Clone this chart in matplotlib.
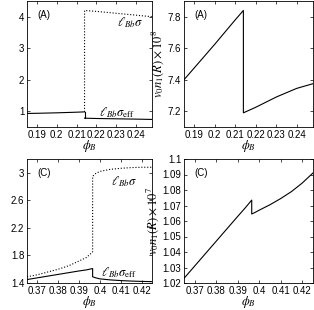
import matplotlib.pyplot as plt

plt.rcParams['font.family'] = ['Liberation Sans', 'DejaVu Sans']
plt.rcParams['mathtext.fontset'] = 'stix'
plt.rcParams['font.size'] = 7

# (A) left: l_Bb*sigma (dotted) and l_Bb*sigma_eff (solid)
phiA = [0.185, 0.19, 0.20, 0.21, 0.214]
effA_lo = [0.93, 0.935, 0.95, 0.97, 0.98]
phiA_hi = [0.214, 0.22, 0.23, 0.24, 0.248]
effA_hi = [0.78, 0.77, 0.76, 0.75, 0.74]
sigA_hi = [4.2, 4.17, 4.11, 4.05, 4.0]

# (A) right: v0 n1(R) x 1e8
nA_lo = [7.4, 7.475, 7.625, 7.78, 7.84]
nA_hi = [7.19, 7.225, 7.29, 7.345, 7.375]

# (C) left
phiC = [0.365, 0.37, 0.375, 0.38, 0.385, 0.39, 0.3935, 0.3965]
sigC_lo = [1.49, 1.52, 1.56, 1.60, 1.65, 1.72, 1.77, 1.85]
effC_lo = [1.45, 1.475, 1.50, 1.525, 1.55, 1.575, 1.59, 1.61]
phiC_hi = [0.3965, 0.398, 0.40, 0.405, 0.41, 0.415, 0.42, 0.425]
sigC_hi = [2.95, 2.99, 3.02, 3.05, 3.065, 3.075, 3.08, 3.08]
effC_hi = [1.49, 1.475, 1.46, 1.445, 1.435, 1.428, 1.423, 1.42]

# (C) right: v0 n1(R) x 1e7
nC_lo = [1.023, 1.031, 1.039, 1.047, 1.055, 1.063, 1.0685, 1.0735]
nC_hi = [1.0645, 1.0655, 1.067, 1.0705, 1.0745, 1.079, 1.0845, 1.091]

fig = plt.figure(figsize=(3.14, 3.10), dpi=100)
W, H = 314, 310
def box(l, t, r, b):
    return [l / W, 1 - b / H, (r - l) / W, (b - t) / H]

ax1 = fig.add_axes(box(27, 1, 152, 127))
ax2 = fig.add_axes(box(184, 1, 313, 127))
ax3 = fig.add_axes(box(27, 159, 152, 283))
ax4 = fig.add_axes(box(184, 159, 313, 283))

lw = 0.8
ax1.plot(phiA, effA_lo, color='k', lw=lw)
ax1.plot([phiA[-1], phiA_hi[0]], [effA_lo[-1], effA_hi[0]], color='k', lw=lw)
ax1.plot(phiA_hi, effA_hi, color='k', lw=lw)
ax1.plot([phiA[-1]] + phiA_hi, [effA_lo[-1]] + sigA_hi, color='k', lw=lw, ls=':')
ax1.set_xlim(0.185, 0.248)
ax1.set_ylim(0.5, 4.5)
ax1.set_yticks([1, 2, 3, 4])
ax1.set_xticks([0.19, 0.20, 0.21, 0.22, 0.23, 0.24])
ax1.set_xticklabels(['0.19', '0.2', '0.21', '0.22', '0.23', '0.24'])
ax1.text(0.2305, 3.7, r'$\ell_{Bb}\sigma$', fontsize=9)
ax1.text(0.2215, 0.85, r'$\ell_{Bb}\sigma_{\rm eff}$', fontsize=9)

ax2.plot(phiA + phiA_hi, nA_lo + nA_hi, color='k', lw=lw)
ax2.set_xlim(0.185, 0.248)
ax2.set_ylim(7.1, 7.9)
ax2.set_yticks([7.2, 7.4, 7.6, 7.8])
ax2.set_xticks([0.19, 0.20, 0.21, 0.22, 0.23, 0.24])
ax2.set_xticklabels(['0.19', '0.2', '0.21', '0.22', '0.23', '0.24'])
ax2.set_ylabel(r'$v_0 n_1(R)\times 10^8$', fontsize=9, labelpad=1)

ax3.plot(phiC + phiC_hi, sigC_lo + sigC_hi, color='k', lw=lw, ls=':')
ax3.plot(phiC + phiC_hi, effC_lo + effC_hi, color='k', lw=lw)
ax3.set_xlim(0.365, 0.425)
ax3.set_ylim(1.4, 3.2)
ax3.set_yticks([1.4, 1.8, 2.2, 2.6, 3.0])
ax3.set_yticklabels(['1.4', '1.8', '2.2', '2.6', '3'])
ax3.set_xticks([0.37, 0.38, 0.39, 0.40, 0.41, 0.42])
ax3.set_xticklabels(['0.37', '0.38', '0.39', '0.4', '0.41', '0.42'])
ax3.text(0.4055, 2.82, r'$\ell_{Bb}\sigma$', fontsize=9)
ax3.text(0.4005, 1.5, r'$\ell_{Bb}\sigma_{\rm eff}$', fontsize=9)

ax4.plot(phiC + phiC_hi, nC_lo + nC_hi, color='k', lw=lw)
ax4.set_xlim(0.365, 0.425)
ax4.set_ylim(1.02, 1.10)
ax4.set_yticks([1.02, 1.03, 1.04, 1.05, 1.06, 1.07, 1.08, 1.09, 1.10])
ax4.set_yticklabels(['1.02', '1.03', '1.04', '1.05', '1.06', '1.07', '1.08', '1.09', '1.1'])
ax4.set_xticks([0.37, 0.38, 0.39, 0.40, 0.41, 0.42])
ax4.set_xticklabels(['0.37', '0.38', '0.39', '0.4', '0.41', '0.42'])
ax4.set_ylabel(r'$v_0 n_1(R)\times 10^7$', fontsize=9, labelpad=1)

for ax, tag in [(ax1, '(A)'), (ax2, '(A)'), (ax3, '(C)'), (ax4, '(C)')]:
    ax.tick_params(direction='in', top=True, right=True, length=2.5, width=0.5,
                   labelsize=7, pad=2)
    for s in ax.spines.values():
        s.set_linewidth(0.6)
    ax.set_xlabel(r'$\phi_B$', fontsize=9, labelpad=-1)
    ax.text(0.08, 0.93, tag, transform=ax.transAxes, fontsize=7, va='top')

fig.savefig('out.png', dpi=100)
